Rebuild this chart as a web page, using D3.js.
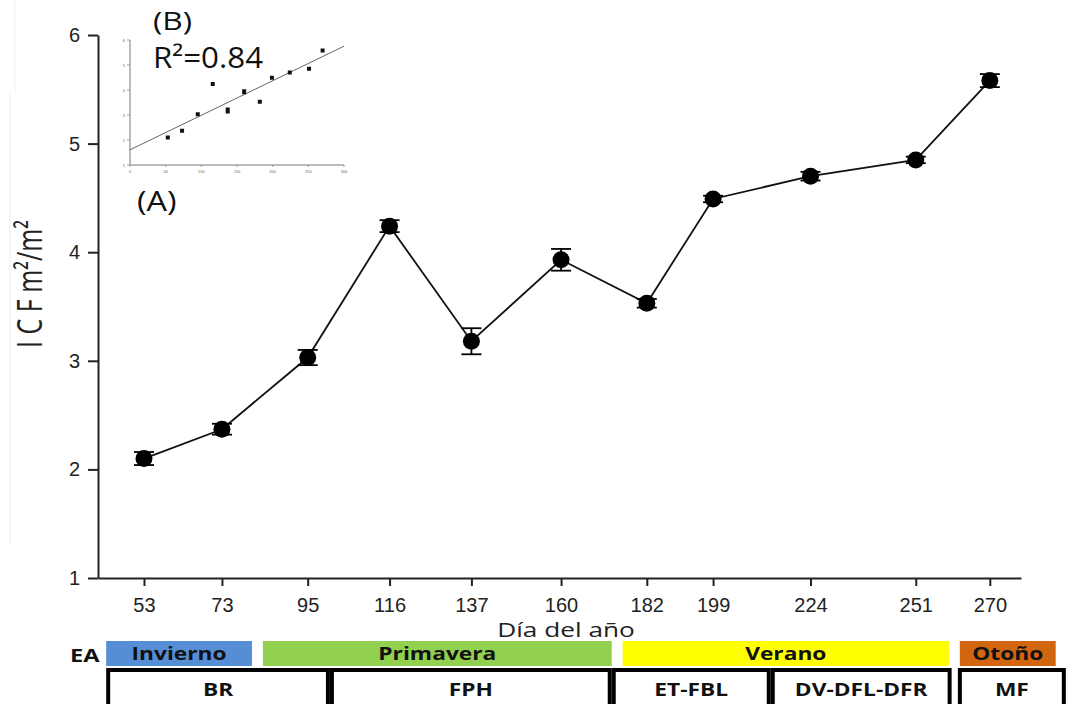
<!DOCTYPE html>
<html>
<head>
<meta charset="utf-8">
<script src="https://cdn.jsdelivr.net/npm/d3@7"></script>
<style>
  html, body { margin: 0; padding: 0; background: #fff; }
  svg { display: block; }
</style>
</head>
<body>
<svg id="chart" width="1071" height="704"></svg>
<script>
// ICF (índice de cobertura foliar) por día del año
const days = [53, 73, 95, 116, 137, 160, 182, 199, 224, 251, 270];
const icf = [2.10, 2.37, 3.03, 4.24, 3.18, 3.93, 3.53, 4.49, 4.70, 4.85, 5.58];
const icfErr = [0.06, 0.05, 0.07, 0.055, 0.12, 0.10, 0.04, 0.03, 0.04, 0.03, 0.06];
const yTicks = [1, 2, 3, 4, 5, 6];

// Inset (B) axis ticks
const insetXTicks = [0, 50, 100, 150, 200, 250, 300];
const insetYTicks = [1, 2, 3, 4, 5, 6];
const r2Label = "R²=0.84";

// Estaciones del año (EA), límites en día del año
const seasonNames = ["Invierno", "Primavera", "Verano", "Otoño"];
const seasonStart = [43.3, 83.5, 175.8, 262.3];
const seasonEnd = [80.7, 173.0, 259.5, 286.9];
const seasonColors = ["#558ed5", "#92d050", "#ffff00", "#d2660f"];

// Fases fenológicas
const phaseNames = ["BR", "FPH", "ET-FBL", "DV-DFL-DFR", "MF"];
const phaseStart = [43.3, 100.7, 173.0, 213.8, 261.8];
const phaseEnd = [100.7, 173.0, 213.8, 260.2, 289.5];

const svg = d3.select("#chart");

// wide text helper: draws text horizontally stretched about its anchor
function wideText(g, tx, ty, sx, sy, str, size, weight, anchor) {
  return g.append("text")
    .attr("transform", `translate(${tx},${ty}) scale(${sx},${sy})`)
    .attr("text-anchor", anchor || "start")
    .style("font-family", "'Open Sans', sans-serif")
    .style("font-size", size + "px")
    .style("font-weight", weight || 400)
    .attr("fill", "#111")
    .text(str);
}

// faint frame lines along the left margin
svg.append("line").attr("x1", 10).attr("x2", 10).attr("y1", 92).attr("y2", 545)
  .attr("stroke", "#ececec").attr("stroke-width", 1);
svg.append("line").attr("x1", 15).attr("x2", 15).attr("y1", 0).attr("y2", 92)
  .attr("stroke", "#f0f0f0").attr("stroke-width", 1);

const x = d3.scaleLinear().domain([41.2, 278]).range([98, 1021]);
const y = d3.scaleLinear().domain([1, 6]).range([578, 35]);

// Axes
const xAxis = svg.append("g")
  .attr("transform", `translate(0,${y(1)})`)
  .call(d3.axisBottom(x).tickValues(days).tickSize(8).tickSizeOuter(0).tickPadding(12));
const yAxis = svg.append("g")
  .attr("transform", `translate(${x.range()[0]},0)`)
  .call(d3.axisLeft(y).tickValues(yTicks).tickSize(10).tickSizeOuter(0).tickPadding(8).tickFormat(d3.format("d")));

[xAxis, yAxis].forEach(g => {
  g.select(".domain").attr("stroke", "#222").attr("stroke-width", 2);
  g.selectAll(".tick line").attr("stroke", "#222").attr("stroke-width", 2);
  g.selectAll(".tick text").attr("fill", "#222")
    .style("font-family", "'Liberation Sans', Arial, sans-serif").style("font-size", "20px");
});

// Axis titles
wideText(svg, 566, 637, 1.28, 1, "Día del año", 20.5, 400, "middle").attr("fill", "#222");

svg.append("text")
  .attr("transform", "translate(42,284) rotate(-90) scale(1,1.35)")
  .attr("text-anchor", "middle")
  .style("font-family", "'Open Sans', sans-serif").style("font-size", "25px")
  .attr("fill", "#222")
  .text("I C F m²/m²");

// Main series
const pts = days.map((d, i) => ({ d, v: icf[i], e: icfErr[i] }));

svg.append("path")
  .datum(pts)
  .attr("fill", "none")
  .attr("stroke", "#111")
  .attr("stroke-width", 1.8)
  .attr("d", d3.line().x(p => x(p.d)).y(p => y(p.v)));

const eb = svg.append("g").attr("stroke", "#000").attr("stroke-width", 1.8);
pts.forEach(p => {
  const cx = x(p.d), y0 = y(p.v - p.e), y1 = y(p.v + p.e);
  eb.append("line").attr("x1", cx).attr("x2", cx).attr("y1", y0).attr("y2", y1);
  eb.append("line").attr("x1", cx - 10).attr("x2", cx + 10).attr("y1", y0).attr("y2", y0);
  eb.append("line").attr("x1", cx - 10).attr("x2", cx + 10).attr("y1", y1).attr("y2", y1);
});

svg.append("g").selectAll("circle")
  .data(pts).join("circle")
  .attr("cx", p => x(p.d)).attr("cy", p => y(p.v))
  .attr("r", 8.5).attr("fill", "#000");

// Inset (B): ICF vs día with linear fit
const ix = d3.scaleLinear().domain([0, 300]).range([130, 344]);
const iy = d3.scaleLinear().domain([1, 6]).range([165, 40]);
const inset = svg.append("g");

inset.append("line").attr("x1", ix(0)).attr("x2", ix(0)).attr("y1", iy(1)).attr("y2", iy(6))
  .attr("stroke", "#777").attr("stroke-width", 1);
inset.append("line").attr("x1", ix(0)).attr("x2", ix(300)).attr("y1", iy(1)).attr("y2", iy(1))
  .attr("stroke", "#777").attr("stroke-width", 1);

insetYTicks.forEach(t => {
  inset.append("line").attr("x1", ix(0) - 3).attr("x2", ix(0)).attr("y1", iy(t)).attr("y2", iy(t))
    .attr("stroke", "#888").attr("stroke-width", 0.8);
  inset.append("text").attr("x", ix(0) - 5).attr("y", iy(t) + 1.5).attr("text-anchor", "end")
    .style("font-family", "'Liberation Sans', Arial, sans-serif").style("font-size", "4px")
    .attr("fill", "#666").text(t);
});
insetXTicks.forEach(t => {
  inset.append("line").attr("x1", ix(t)).attr("x2", ix(t)).attr("y1", iy(1)).attr("y2", iy(1) + 2)
    .attr("stroke", "#888").attr("stroke-width", 0.8);
  inset.append("text").attr("x", ix(t)).attr("y", iy(1) + 8).attr("text-anchor", "middle")
    .style("font-family", "'Liberation Sans', Arial, sans-serif").style("font-size", "4px")
    .attr("fill", "#666").text(t);
});

// least-squares fit through the series
const mx = d3.mean(days), my = d3.mean(icf);
const sxy = d3.sum(days, (d, i) => (d - mx) * (icf[i] - my));
const sxx = d3.sum(days, d => (d - mx) * (d - mx));
const slope = sxy / sxx, intercept = my - slope * mx;
inset.append("line")
  .attr("x1", ix(0)).attr("y1", iy(intercept))
  .attr("x2", ix(300)).attr("y2", iy(intercept + slope * 300))
  .attr("stroke", "#666").attr("stroke-width", 1);

inset.selectAll("rect.pt")
  .data(pts).join("rect")
  .attr("class", "pt")
  .attr("x", p => ix(p.d) - 2)
  .attr("y", p => Math.min(iy(p.v + p.e), iy(p.v) - 2))
  .attr("width", 4)
  .attr("height", p => Math.max(iy(p.v - p.e) - iy(p.v + p.e), 4))
  .attr("fill", "#111");

wideText(svg, 153, 30, 1.22, 1, "(B)", 26);
wideText(svg, 153, 68, 1.08, 1, r2Label, 29);
wideText(svg, 137, 211, 1.2, 1, "(A)", 27);

// Seasons band (EA)
wideText(svg, 70, 662, 1.35, 1, "EA", 17.5, 700);

const sg = svg.append("g");
seasonNames.forEach((n, i) => {
  const x0 = x(seasonStart[i]), x1 = x(seasonEnd[i]);
  sg.append("rect").attr("x", x0).attr("y", 641).attr("width", x1 - x0).attr("height", 25)
    .attr("fill", seasonColors[i]);
  wideText(sg, (x0 + x1) / 2, 660, 1.3, 1, n, 17.5, 700, "middle");
});

// Phenological phase boxes
const pg = svg.append("g");
phaseNames.forEach((n, i) => {
  const x0 = x(phaseStart[i]), x1 = x(phaseEnd[i]);
  pg.append("rect").attr("x", x0 + 2).attr("y", 670).attr("width", x1 - x0 - 4).attr("height", 44)
    .attr("fill", "#fff").attr("stroke", "#000").attr("stroke-width", 4);
  wideText(pg, (x0 + x1) / 2, 696, 1.3, 1, n, 17.5, 700, "middle");
});
</script>
</body>
</html>
